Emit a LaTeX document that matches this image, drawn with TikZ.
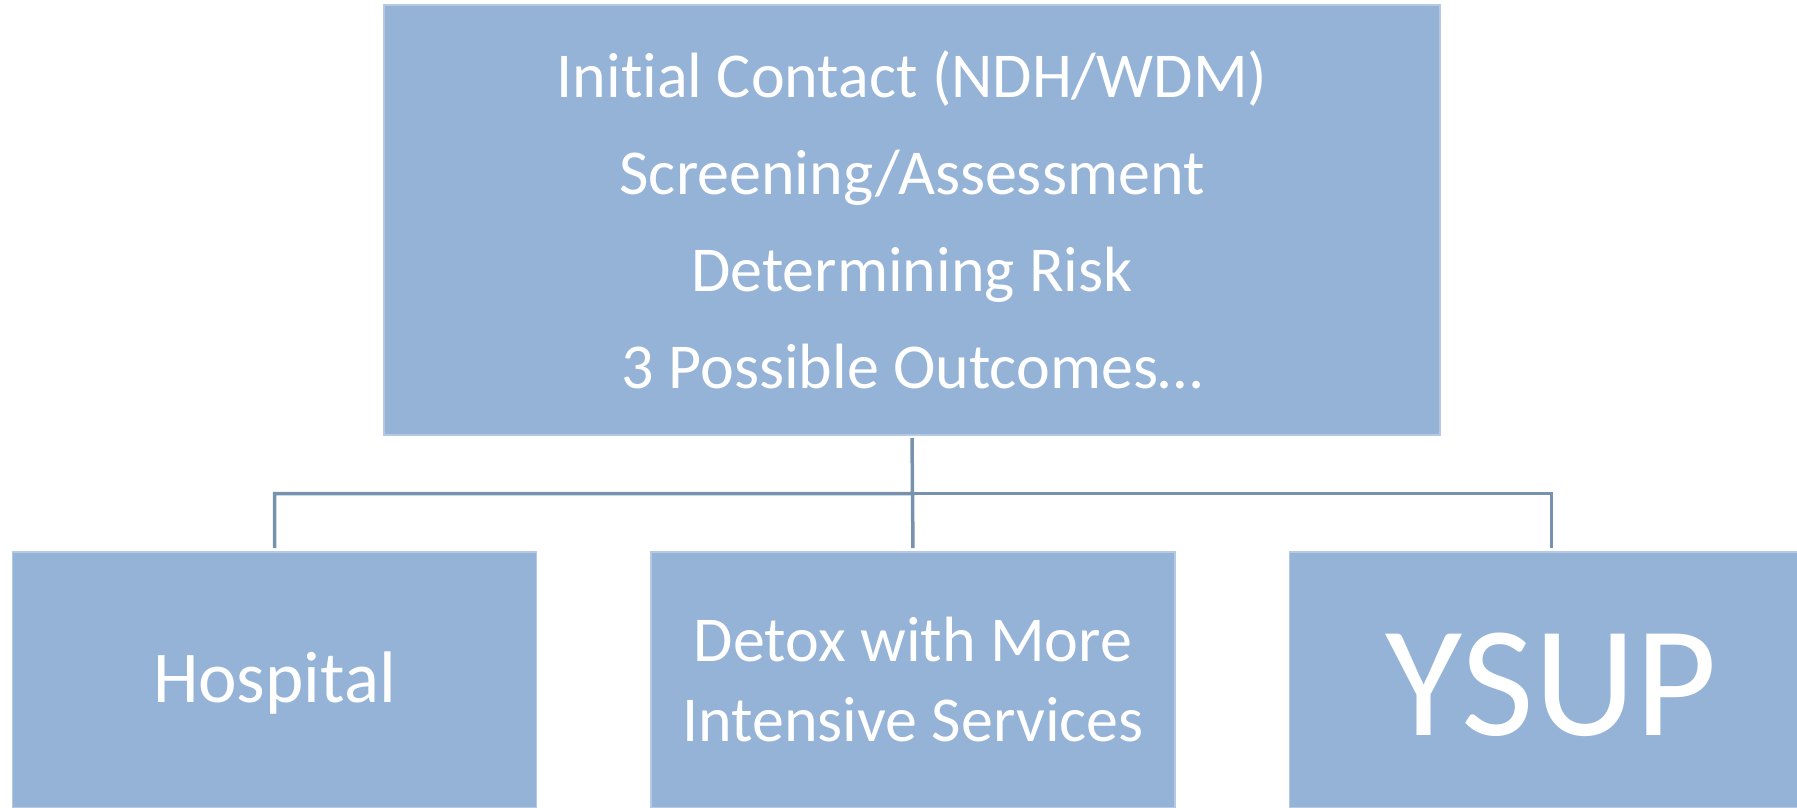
\documentclass[tikz,border=0pt]{standalone}
\usepackage{fontspec}
\setmainfont{Carlito}[Ligatures=NoCommon]
\usetikzlibrary{positioning,calc}
\definecolor{boxblue}{HTML}{95B3D6}
\definecolor{linkblue}{HTML}{7692AD}

\begin{document}
\begin{tikzpicture}[x=1pt,y=-1pt,node distance=114.5pt,
  box/.style={fill=boxblue,draw=boxblue!70!white,line width=1.2pt,text=white,align=center,inner sep=0pt,outer sep=0pt},
  leaf/.style={box,minimum width=524pt,minimum height=256pt},
  link/.style={draw=linkblue,line width=3.5pt}]
\useasboundingbox (0,0) rectangle (1797,808);
\clip (0,0) rectangle (1797,808);
\node[box,minimum width=1056pt,minimum height=430pt,font=\fontsize{64}{97}\selectfont] (top) at (912,220)
  {Initial Contact (NDH/WDM)\\Screening/Assessment\\Determining Risk\\3 Possible Outcomes\dots};
\node[leaf,font=\fontsize{64}{80}\selectfont] (detox) at (913,680) {Detox with More\\Intensive Services};
\node[leaf,left=of detox,font=\fontsize{73}{80}\selectfont,text height=50pt,text depth=5pt] (hosp) {Hospital};
\node[leaf,right=of detox,font=\fontsize{158}{160}\selectfont,text height=110pt,text depth=0pt] (ysup) {YSUP};
% elbow connectors from the top box
\coordinate (split) at ($(top.south)!0.5!(detox.north)$);
\draw[link,shorten <=3pt,shorten >=4pt] (top.south) -- (split) -| (hosp.north);
\draw[link,shorten >=4pt] (split) -| (ysup.north);
\draw[link,shorten >=4pt] (split) -- (detox.north);
\end{tikzpicture}
\end{document}
